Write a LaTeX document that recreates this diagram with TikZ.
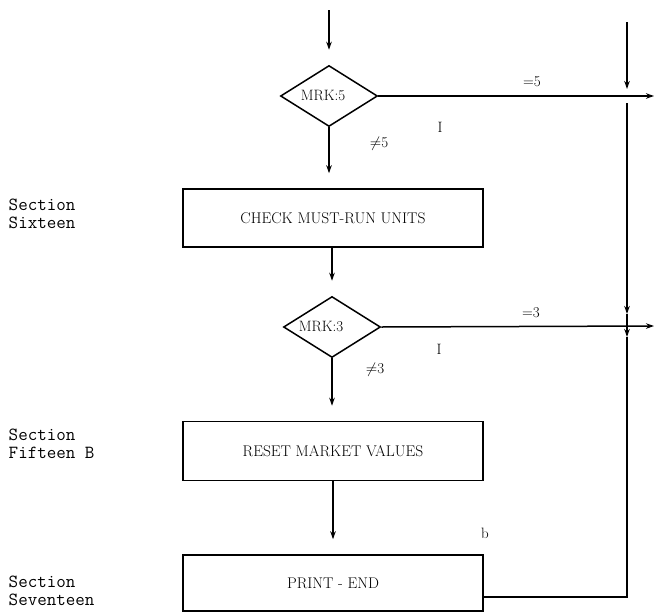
\documentclass[tikz,border=0pt]{standalone}
\usepackage{fix-cm}
\usepackage{fontspec}
\usetikzlibrary{shapes.geometric,arrows.meta}
\begin{document}
\begin{tikzpicture}[x=1pt,y=-1pt,line width=1.5pt,
  box/.style={draw,rectangle,minimum width=300pt,inner sep=0pt,font=\fontsize{15.5}{17}\selectfont},
  dec/.style={draw,diamond,minimum width=97pt,minimum height=61pt,inner sep=0pt},
  dectext/.style={font=\fontsize{15}{17}\selectfont,inner sep=0pt},
  lbl/.style={font=\fontsize{15}{17}\selectfont,inner sep=0pt},
  sect/.style={font=\fontsize{18.5}{18}\ttfamily,align=left,anchor=west,inner sep=0pt},
  flow/.style={-{Stealth[length=8pt,width=5.5pt]},shorten >=15pt},
  tip/.style={-{Stealth[length=8pt,width=5.5pt]}}]
\useasboundingbox (0,0) rectangle (655,613);
% decisions
\node[dec] (d1) at (329,96) {};
\node[dectext] (t1) at (323,95) {MRK:5};
\node[dec] (d2) at (332,327) {};
\node[dectext] (t2) at (321,326) {MRK:3};
% boxes
\node[box,minimum height=58pt] (b1) at (333,218) {CHECK MUST-RUN UNITS};
\node[box,minimum height=59pt] (b2) at (333,451) {RESET MARKET VALUES};
\node[box,minimum height=56pt] (b3) at (333,583) {PRINT - END};
% section labels
\node[sect] (s1) at (8,214) {Section\\Sixteen};
\node[sect] (s2) at (8,444) {Section\\Fifteen B};
\node[sect] (s3) at (8,591) {Section\\Seventeen};
% edge labels
\node[lbl] (l1) at (532,82) {=5};
\node[lbl] (l2) at (440,127) {I};
\node[lbl] (l3) at (379,144) {$\neq$5};
\node[lbl] (l4) at (531,313) {=3};
\node[lbl] (l5) at (439,349) {I};
\node[lbl] (l6) at (375,370) {$\neq$3};
\node[lbl] (l7) at (485,533) {b};
% main flow
\coordinate (top) at (329,10);
\draw[flow] (top) -- (d1.north);
\draw[flow] (d1.south) -- (d1.south |- b1.north);
\draw[flow] (d2.north |- b1.south) -- (d2.north);
\draw[flow] (d2.south) -- (d2.south |- b2.north);
\draw[flow] (b2.south) -- (b3.north);
% exits right
\coordinate (e1) at (654,96);
\coordinate (e2) at (654,326);
\draw[tip] (d1.east) -- (e1);
\draw[tip] (d2.east) -- (e2);
% right vertical line
\coordinate (r0) at (627,22);
\coordinate (r1) at (627,89);
\coordinate (r2) at (627,103);
\coordinate (r3) at (627,314);
\coordinate (r4) at (627,337);
\coordinate (r5) at (627,597);
\draw[tip] (r0) -- (r1);
\draw[tip] (r2) -- (r3);
\draw[tip] (r3) -- (r4);
\draw (r4) -- (r5) -- (r5 -| b3.east);
\end{tikzpicture}
\end{document}
